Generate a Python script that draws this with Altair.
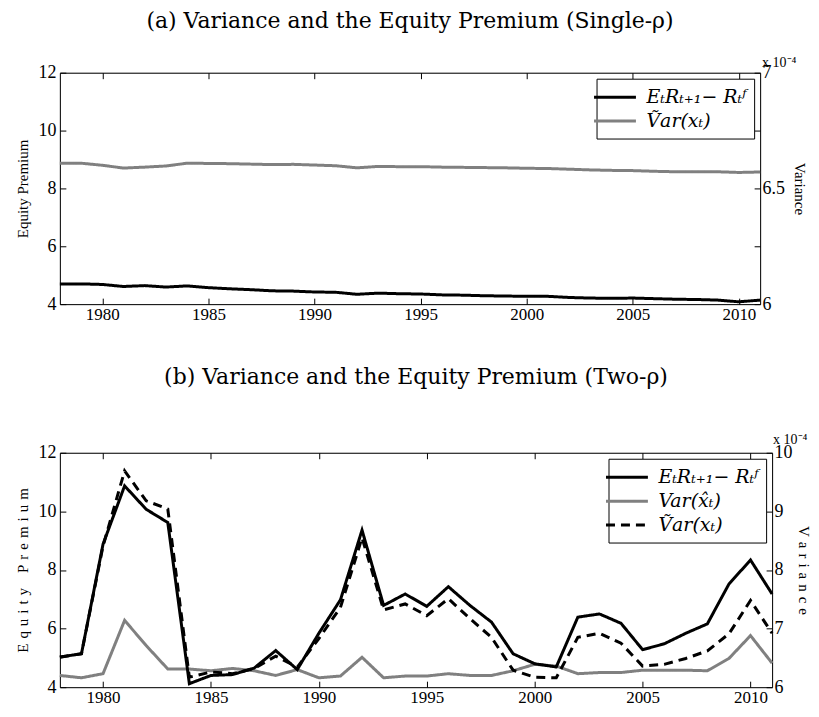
import altair as alt
import pandas as pd

years = list(range(1978, 2012))

# Panel (a): Single-rho
ep_single = [4.70, 4.70, 4.68, 4.61, 4.64, 4.59, 4.63, 4.57, 4.53, 4.50, 4.46,
             4.45, 4.42, 4.41, 4.34, 4.38, 4.36, 4.35, 4.32, 4.31, 4.29, 4.28,
             4.27, 4.27, 4.23, 4.21, 4.20, 4.21, 4.19, 4.17, 4.16, 4.14, 4.08, 4.14]
var_single = [6.609, 6.609, 6.600, 6.588, 6.592, 6.597, 6.609, 6.608, 6.607, 6.605, 6.603,
              6.604, 6.601, 6.598, 6.589, 6.595, 6.594, 6.594, 6.592, 6.591, 6.590, 6.589,
              6.587, 6.586, 6.583, 6.580, 6.578, 6.577, 6.574, 6.572, 6.572, 6.572, 6.569, 6.571]

# Panel (b): Two-rho
ep_two = [5.03, 5.14, 8.88, 10.87, 10.07, 9.62, 4.12, 4.40, 4.43, 4.65, 5.25,
          4.60, 5.84, 6.98, 9.36, 6.79, 7.18, 6.76, 7.43, 6.79, 6.22, 5.14,
          4.80, 4.69, 6.39, 6.50, 6.18, 5.28, 5.48, 5.84, 6.16, 7.52, 8.34, 7.18]
var_hat_two = [6.20, 6.16, 6.23, 7.14, 6.71, 6.31, 6.31, 6.28, 6.32, 6.28, 6.20,
               6.30, 6.16, 6.19, 6.51, 6.16, 6.19, 6.19, 6.23, 6.20, 6.20, 6.28,
               6.39, 6.36, 6.23, 6.25, 6.25, 6.29, 6.29, 6.29, 6.28, 6.49, 6.88, 6.41]
var_tilde_two = [6.51, 6.57, 8.41, 9.69, 9.18, 9.04, 6.17, 6.26, 6.23, 6.32, 6.53,
                 6.34, 6.83, 7.36, 8.55, 7.32, 7.42, 7.22, 7.51, 7.17, 6.85, 6.29,
                 6.17, 6.16, 6.85, 6.92, 6.75, 6.36, 6.39, 6.49, 6.62, 6.91, 7.48, 6.92]

year_ticks = [1980, 1985, 1990, 1995, 2000, 2005, 2010]
ep_ticks = [4, 6, 8, 10, 12]

S_EP = "EₜRₜ₊₁− Rₜᶠ"
S_VT = "Ṽar(xₜ)"
S_VH = "Var(x̂ₜ)"

BLACK = "#000000"
GRAY = "#808080"
TICK = 6
INWARD = {"expr": str(-TICK)}
TICKFONT = "Liberation Serif"
SP = "\u2004"


def spaced(s):
    return SP.join(list(s))


def make_panel(ep, var_series, width, height, title, title_offset, left_title,
               right_title, right_values, right_label_expr, right_domain,
               order, colors, dashes, note_dx, note_dy, axis_title_size, right_title_pad):
    df_ep = pd.DataFrame({"year": years, "value": ep, "series": S_EP})
    df_var = pd.concat([pd.DataFrame({"year": years, "value": v, "series": n})
                        for n, v in var_series])
    legend = alt.Legend(title=None, orient="top-right", offset=6, fillColor="white",
                        strokeColor="black", padding=7, labelFont="DejaVu Serif",
                        labelFontStyle="italic", labelFontSize=19, labelColor="black",
                        symbolType="M-2.1,0H2.1", symbolSize=400, symbolStrokeWidth=3,
                        labelOffset=20, rowPadding=2, labelLimit=300, cornerRadius=0)
    color = alt.Color("series:N", scale=alt.Scale(domain=order, range=colors), legend=legend)
    dash = alt.StrokeDash("series:N", scale=alt.Scale(domain=order, range=dashes), legend=legend)
    xscale = alt.Scale(domain=[1978, 2011], nice=False, zero=False)
    x_bottom = alt.X("year:Q", scale=xscale,
                     axis=alt.Axis(values=year_ticks, format="d", tickSize=INWARD, title=None,
                                   grid=False, labelFont=TICKFONT, labelFontSize=17,
                                   labelColor="black", domainColor="black", tickColor="black",
                                   labelPadding=TICK + 2))
    x_top = alt.X("year:Q", scale=xscale,
                  axis=alt.Axis(orient="top", values=year_ticks, labels=False, tickSize=INWARD,
                                title=None, grid=False, domainColor="black", tickColor="black"))
    ep_line = alt.Chart(df_ep).mark_line(strokeWidth=3).encode(
        x=x_bottom,
        y=alt.Y("value:Q", scale=alt.Scale(domain=[4, 12], nice=False, zero=False),
                axis=alt.Axis(orient="left", values=ep_ticks, tickSize=INWARD, grid=False,
                              title=left_title, titleFont=TICKFONT,
                              titleFontSize=axis_title_size,
                              titleFontWeight="normal", titleColor="black",
                              labelFont=TICKFONT, labelFontSize=18, labelColor="black",
                              domainColor="black", tickColor="black", labelPadding=TICK + 4,
                              titlePadding=7)),
        color=color, strokeDash=dash)
    var_line = alt.Chart(df_var).mark_line(strokeWidth=3).encode(
        x=x_top,
        y=alt.Y("value:Q", scale=alt.Scale(domain=right_domain, nice=False, zero=False),
                axis=alt.Axis(orient="right", values=right_values, labelExpr=right_label_expr,
                              tickSize=INWARD, grid=False, title=right_title,
                              titleFont=TICKFONT, titleFontSize=axis_title_size,
                              titleFontWeight="normal",
                              titleColor="black", labelFont=TICKFONT, labelFontSize=18,
                              labelColor="black", domainColor="black", tickColor="black",
                              labelPadding=TICK + 2, titlePadding=right_title_pad)),
        color=color, strokeDash=dash)
    note = alt.Chart(alt.Data(values=[{}])).mark_text(
        align="left", baseline="alphabetic", font=TICKFONT, fontSize=14, color="black").encode(
        x=alt.value(width + note_dx), y=alt.value(note_dy), text=alt.value("x 10⁻⁴"))
    return alt.layer(var_line, ep_line, note).resolve_scale(y="independent").resolve_axis(
        x="independent").properties(
        width=width, height=height,
        title=alt.TitleParams(title, font="DejaVu Serif", fontSize=22, fontWeight="normal",
                              color="black", offset=title_offset, anchor="middle"))


top = make_panel(
    ep_single, [(S_VT, var_single)], 702, 232,
    "(a) Variance and the Equity Premium (Single-ρ)", 23,
    "Equity Premium", "Variance", [6, 6.25, 6.5, 6.75, 7],
    "datum.value == 6.25 || datum.value == 6.75 ? '' : format(datum.value, '~g')",
    [6, 7], [S_EP, S_VT], [BLACK, GRAY], [[1, 0], [1, 0]], 2, -6, 15, 7)

bottom = make_panel(
    ep_two, [(S_VH, var_hat_two), (S_VT, var_tilde_two)], 714, 235,
    "(b) Variance and the Equity Premium (Two-ρ)", 44,
    spaced("Equity") + SP + SP + SP + spaced("Premium"),
    spaced("Variance"), [6, 7, 8, 9, 10],
    "format(datum.value, '~g')",
    [6, 10], [S_EP, S_VH, S_VT], [BLACK, GRAY, BLACK], [[1, 0], [1, 0], [9, 6]], 1, -9, 15, 3)

chart = alt.vconcat(top, bottom, spacing=42).resolve_scale(
    color="independent", strokeDash="independent").configure_view(
    stroke="black", strokeWidth=1).configure(
    background="white", padding={"left": 7, "top": 0, "right": 0, "bottom": 0})

chart.save("out.html", embed_options={"renderer": "svg", "actions": False})
